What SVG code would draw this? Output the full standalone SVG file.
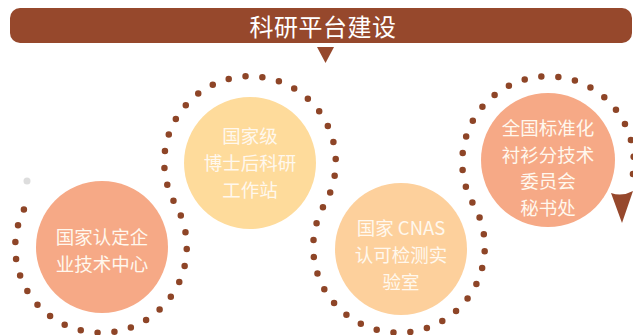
<svg xmlns="http://www.w3.org/2000/svg" width="633" height="335" viewBox="0 0 633 335">
<style>
.t{font-family:"Noto Sans CJK SC","Noto Sans",sans-serif;font-size:18.5px;fill:#FFF8EE;text-anchor:middle}
.h{font-family:"Noto Sans CJK SC","Noto Sans",sans-serif;font-size:24px;fill:#FFFFFF;text-anchor:middle;letter-spacing:0.5px}
.dots{fill:none;stroke:#8E4527;stroke-width:6.5;stroke-linecap:round;stroke-dasharray:0 17}
</style>
<rect width="633" height="335" fill="#FFFFFF"/>
<g id="header">
<rect x="10" y="8" width="622" height="35" rx="10" fill="#96482C"/>
<text class="h" x="323" y="35.5">科研平台建设</text>
<polygon points="317,47 334,47 325.5,63" fill="#96482C"/>
</g>
<g id="connectors">
<path class="dots" d="M 23.9 209.4 A 85.77 85.77 0 1 0 175.5 204.5 A 85.77 85.77 0 1 1 324.5 204.5 A 85.77 85.77 0 1 0 473.5 204.5 A 85.77 85.77 0 1 1 629.6 188.5"/>
<path d="M 611 193 Q 622 197 633 191 L 622 223 Z" fill="#96482C"/>
<circle cx="27" cy="181" r="3.5" fill="#DDDDDD"/>
</g>
<g id="node1">
<circle cx="102" cy="247" r="66" fill="#F6A986"/>
<text class="t" x="102" y="244">国家认定企</text>
<text class="t" x="102" y="271">业技术中心</text>
</g>
<g id="node2">
<circle cx="250" cy="163" r="66" fill="#FEDB9B"/>
<text class="t" x="250" y="143">国家级</text>
<text class="t" x="250" y="170">博士后科研</text>
<text class="t" x="250" y="197">工作站</text>
</g>
<g id="node3">
<circle cx="401" cy="249" r="66" fill="#FDD09C"/>
<text class="t" x="401" y="235">国家 CNAS</text>
<text class="t" x="401" y="262">认可检测实</text>
<text class="t" x="401" y="289">验室</text>
</g>
<g id="node4">
<circle cx="548" cy="160" r="67" fill="#F6A986"/>
<text class="t" x="548" y="135">全国标准化</text>
<text class="t" x="548" y="162">衬衫分技术</text>
<text class="t" x="548" y="188">委员会</text>
<text class="t" x="548" y="215">秘书处</text>
</g>
</svg>
